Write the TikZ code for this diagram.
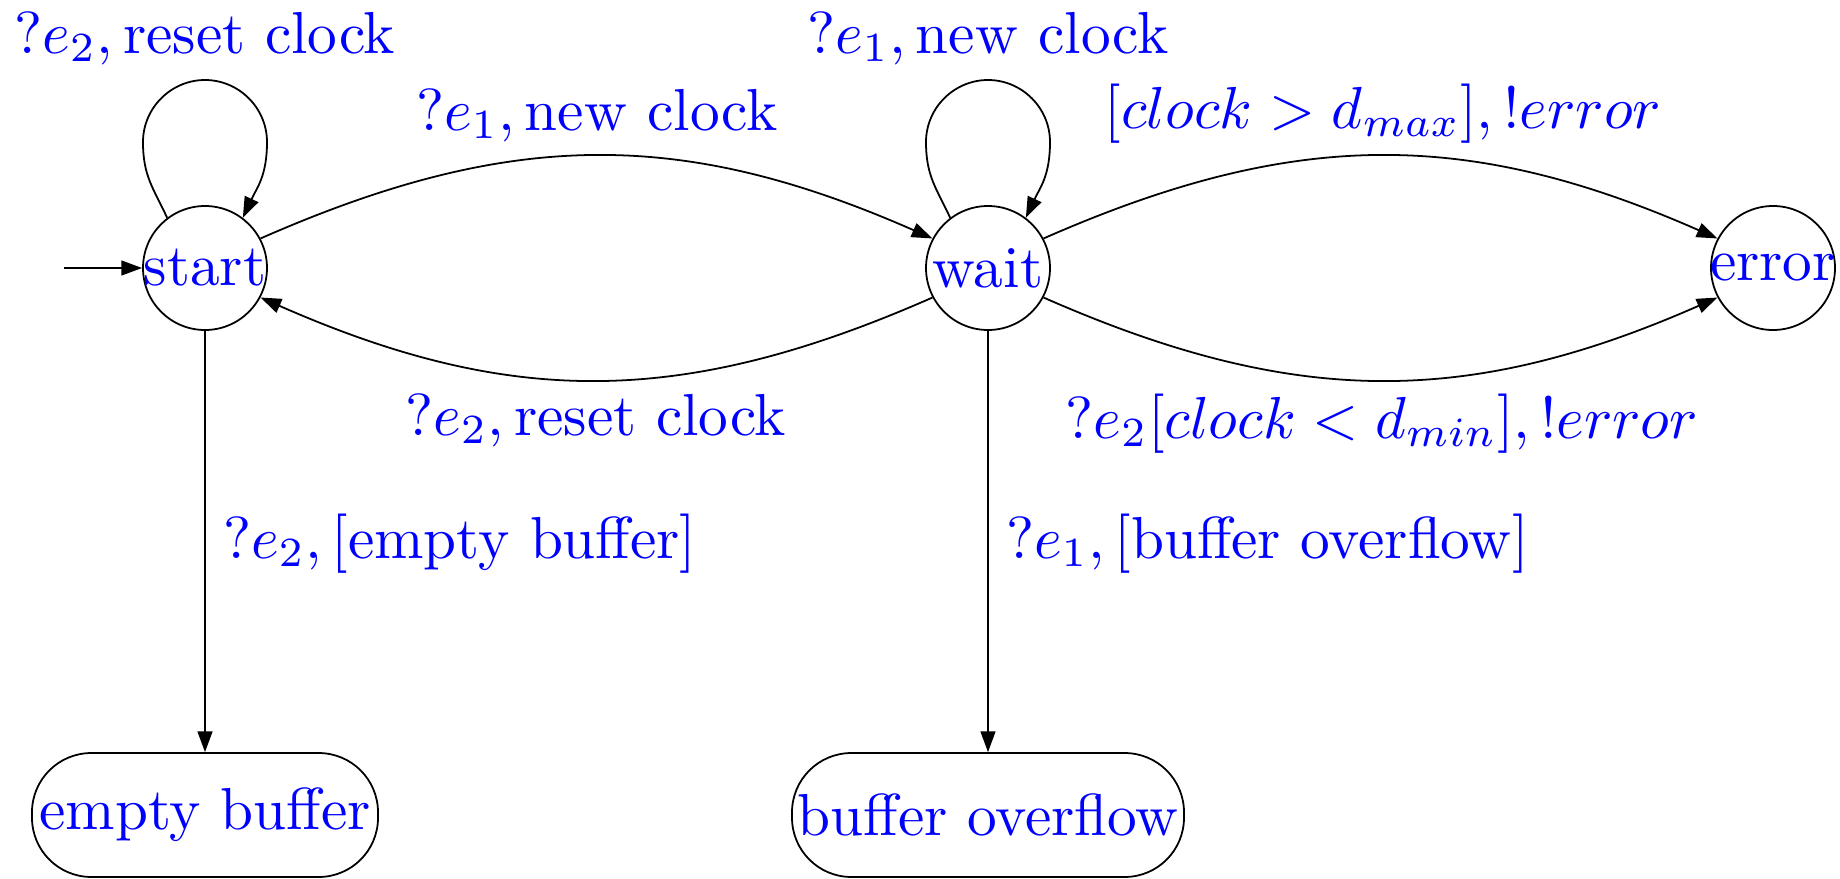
\documentclass[tikz,border=0pt]{standalone}
\usetikzlibrary{arrows.meta,calc}
\begin{document}
\begin{tikzpicture}[x=0.16863pt,y=-0.16863pt,
  every node/.style={text=blue},
  statenode/.style={circle,draw=black,line width=0.3pt,minimum size=20.91pt,inner sep=0pt},
  endnode/.style={rectangle,rounded corners=10pt,draw=black,line width=0.3pt,minimum height=20.9pt,inner sep=0pt},
  lbl/.style={inner sep=0pt,anchor=base},
  edgeline/.style={line width=0.3pt,-{Triangle[length=3.5pt,width=2.5pt]}}]
\useasboundingbox (0,0) rectangle (1840,878);
% states
\node[statenode] (start) at (205,268) {\makebox[0pt]{start}};
\node[statenode] (wait) at (988,268) {\makebox[0pt]{wait}};
\node[statenode] (error) at (1773,268) {\makebox[0pt]{error}};
\node[endnode,minimum width=58.35pt] (emptyb) at (205,815) {empty buffer};
\node[endnode,minimum width=66.1pt] (overflow) at (988,815) {buffer overflow};
% initial arrow
\coordinate (init) at (64,268);
\draw[edgeline] (init) -- (start);
% self loops
\draw[edgeline] (start.127) .. controls +(-14,-30) and +(0,34) .. ($(start.center)+(-62,-126)$)
  .. controls +(0,-34) and +(-34,0) .. ($(start.center)+(0,-188)$)
  .. controls +(34,0) and +(0,-34) .. ($(start.center)+(62,-126)$)
  .. controls +(0,34) and +(14,-30) .. (start.53);
\draw[edgeline] (wait.127) .. controls +(-14,-30) and +(0,34) .. ($(wait.center)+(-62,-126)$)
  .. controls +(0,-34) and +(-34,0) .. ($(wait.center)+(0,-188)$)
  .. controls +(34,0) and +(0,-34) .. ($(wait.center)+(62,-126)$)
  .. controls +(0,34) and +(14,-30) .. (wait.53);
% curved transitions
\draw[edgeline] (start.28) .. controls +(250,-110) and +(-250,-110) .. (wait.152);
\draw[edgeline] (wait.208) .. controls +(-250,110) and +(250,110) .. (start.-28);
\draw[edgeline] (wait.28) .. controls +(250,-110) and +(-250,-110) .. (error.152);
\draw[edgeline] (wait.-28) .. controls +(250,110) and +(-250,110) .. (error.208);
% vertical transitions
\draw[edgeline] (start.south) -- (emptyb.north);
\draw[edgeline] (wait.south) -- (overflow.north);
% labels
\node[lbl] (l1) at (205,53) {$?e_2, \mathrm{reset\ clock}$};
\node[lbl] (l2) at (988,53) {$?e_1, \mathrm{new\ clock}$};
\node[lbl] (l3) at (597,130) {$?e_1, \mathrm{new\ clock}$};
\node[lbl] (l4) at (596,435) {$?e_2, \mathrm{reset\ clock}$};
\node[lbl] (l5) at (1383,128) {$[clock > d_{max}], !error$};
\node[lbl] (l6) at (1382,438) {$?e_2[clock < d_{min}], !error$};
\node[lbl,anchor=base west] (l7) at (222,558) {$?e_2, [\mathrm{empty\ buffer}]$};
\node[lbl,anchor=base west] (l8) at (1005,558) {$?e_1, [\mathrm{buffer\ overflow}]$};
\end{tikzpicture}
\end{document}
